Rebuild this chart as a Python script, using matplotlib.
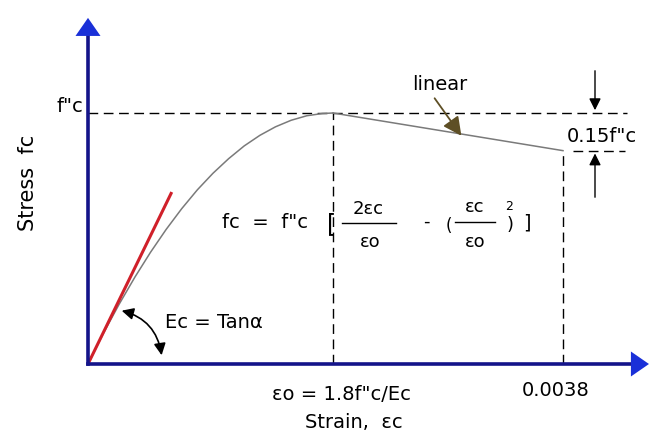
import numpy as np
import matplotlib.pyplot as plt

plt.rcParams['font.family'] = ['DejaVu Sans']

# strain in units of 1e-3, stress as a fraction of f"c
strain = [0, 0.125, 0.25, 0.375, 0.5, 0.625, 0.75, 0.875, 1.0,
          1.125, 1.25, 1.375, 1.5, 1.625, 1.75, 1.875, 1.96]
stress = [0, 0.124, 0.239, 0.346, 0.445, 0.536, 0.619, 0.694, 0.760,
          0.818, 0.869, 0.911, 0.945, 0.971, 0.989, 0.998, 1.0]

# descending linear branch
strain_lin = [1.96, 3.8]
stress_lin = [1.0, 0.85]

# initial tangent (Ec)
tan_strain = [0, 0.67]
tan_stress = [0, 0.685]

eps_o = 1.96
eps_u = 3.8
f_peak = 1.0
f_end = 0.85
x_end = 4.51
y_end = 1.39

fig = plt.figure(figsize=(6.55, 4.34), dpi=100)
ax = fig.add_axes([0, 0, 1, 1])
# pixel origin of the axes and scale (px per unit)
x0, y0, sx, sy = 88, 364, 125, 251
ax.set_xlim(-x0 / sx, (655 - x0) / sx)
ax.set_ylim((y0 - 434) / sy, y0 / sy)
ax.axis('off')


def P(px, py):
    return ((px - x0) / sx, (y0 - py) / sy)


navy = '#14148a'
blue = '#1a30d8'
dash = dict(color='black', lw=1.0, dashes=(7, 4))

# guide lines
ax.plot([0, P(627, 0)[0]], [f_peak, f_peak], **dash)
ax.plot([eps_o, eps_o], [0, f_peak], **dash)
ax.plot([eps_u, eps_u], [0, f_end], **dash)
ax.plot([P(573, 0)[0], P(625, 0)[0]], [f_end, f_end], **dash)

# curve
ax.plot(strain, stress, color='#7a7a7a', lw=1.1)
ax.plot(strain_lin, stress_lin, color='#7a7a7a', lw=1.1)
ax.plot(tan_strain, tan_stress, color='#d0202a', lw=2.2, solid_capstyle='butt')

# axes with arrows
ax.plot([0, 0], [0, y_end - 0.05], color=navy, lw=2.6)
ax.plot([0, x_end - 0.1], [0, 0], color=navy, lw=2.6)
head = dict(arrowstyle='-|>,head_length=0.65,head_width=0.45',
            color=blue, mutation_scale=20, lw=0)
ax.annotate('', xy=(0, y_end), xytext=(0, y_end - 0.08), arrowprops=head)
ax.annotate('', xy=(x_end, 0), xytext=(x_end - 0.15, 0), arrowprops=head)

# dimension arrows for 0.15f"c
small = dict(arrowstyle='-|>,head_length=0.5,head_width=0.25',
             color='black', lw=1.0, mutation_scale=14)
xd = P(595, 0)[0]
ax.annotate('', xy=(xd, f_peak), xytext=(xd, P(0, 68)[1]), arrowprops=small)
ax.annotate('', xy=(xd, f_end), xytext=(xd, P(0, 200)[1]), arrowprops=small)

# "linear" pointer
ax.annotate('', xy=P(463, 138), xytext=P(433, 96),
            arrowprops=dict(arrowstyle='-|>,head_length=0.7,head_width=0.35',
                            color='#5e4f25', lw=1.3, mutation_scale=16))

# angle arc
ax.annotate('', xy=P(162, 358), xytext=P(119, 310),
            arrowprops=dict(arrowstyle='<|-|>,head_length=0.5,head_width=0.25',
                            color='black', lw=1.2, mutation_scale=14,
                            connectionstyle='arc3,rad=-0.35'))

# texts
ax.text(*P(28, 183), 'Stress  fc', rotation=90, ha='center', va='center', fontsize=15)
ax.text(*P(83, 107), 'f"c', ha='right', va='center', fontsize=14)
ax.text(*P(440, 84), 'linear', ha='center', va='center', fontsize=14)
ax.text(*P(602, 136), '0.15f"c', ha='center', va='center', fontsize=14)
ax.text(*P(165, 323), 'Ec = Tan\u03b1', ha='left', va='center', fontsize=14)
ax.text(*P(341, 395), '\u03b5o = 1.8f"c/Ec', ha='center', va='center', fontsize=14)
ax.text(*P(556, 390), '0.0038', ha='center', va='center', fontsize=14)
ax.text(*P(354, 423), 'Strain,  \u03b5c', ha='center', va='center', fontsize=14)

# formula
ax.text(*P(222, 223), 'fc  =  f"c', ha='left', va='center', fontsize=14)
ax.text(*P(332, 224), '[', ha='center', va='center', fontsize=17)
ax.text(*P(368, 209), '2\u03b5c', ha='center', va='center', fontsize=13)
ax.plot([P(342, 0)[0], P(396, 0)[0]], [P(0, 223)[1]] * 2, color='black', lw=1)
ax.text(*P(370, 242), '\u03b5o', ha='center', va='center', fontsize=13)
ax.text(*P(426, 222), '-', ha='center', va='center', fontsize=13)
ax.text(*P(449, 226), '(', ha='center', va='center', fontsize=12)
ax.text(*P(475, 207), '\u03b5c', ha='center', va='center', fontsize=13)
ax.plot([P(455, 0)[0], P(495, 0)[0]], [P(0, 222)[1]] * 2, color='black', lw=1)
ax.text(*P(475, 242), '\u03b5o', ha='center', va='center', fontsize=13)
ax.text(*P(510, 225), ')', ha='center', va='center', fontsize=13)
ax.text(*P(509, 206), '2', ha='center', va='center', fontsize=9)
ax.text(*P(527, 223), ']', ha='center', va='center', fontsize=14)

fig.savefig('out.png', dpi=100)
